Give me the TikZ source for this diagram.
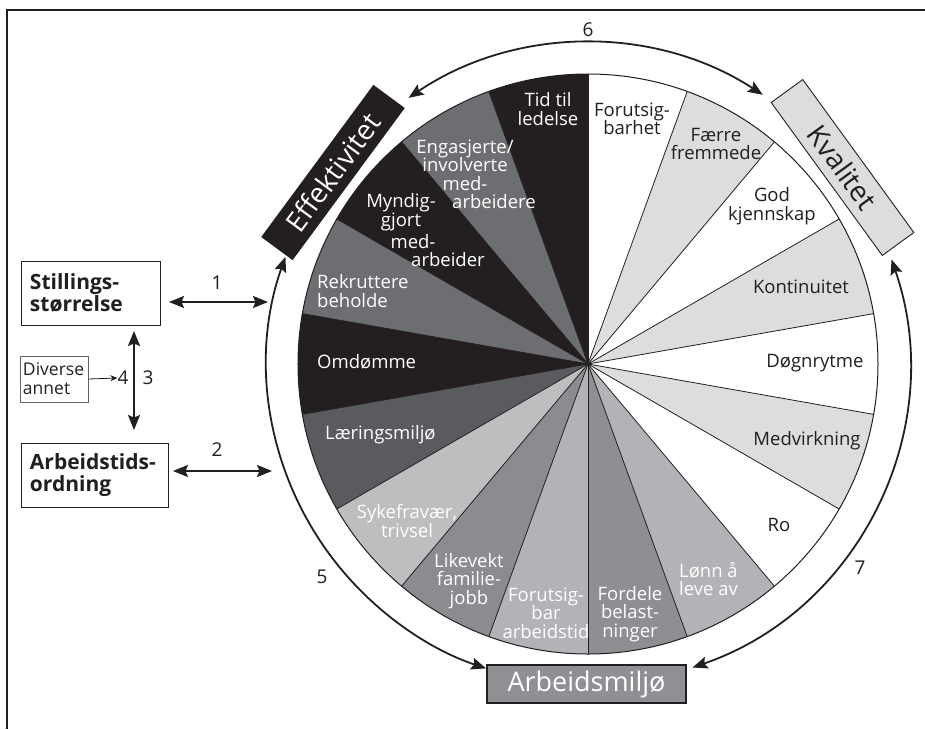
\documentclass[tikz,border=0pt]{standalone}
\usepackage{fontspec}
\setmainfont{Open Sans}
\usetikzlibrary{arrows.meta}
\definecolor{pblack}{HTML}{231F20}
\definecolor{dgray}{HTML}{6D6E71}
\definecolor{lgray}{HTML}{5A5B5E}
\definecolor{sgray}{HTML}{BCBEC0}
\definecolor{mgray}{HTML}{8A8C8F}
\definecolor{fgray}{HTML}{B1B3B6}
\definecolor{egray}{HTML}{8D8F92}
\definecolor{pale}{HTML}{DCDDDE}
\definecolor{abox}{HTML}{8E9093}
\begin{document}
\begin{tikzpicture}[x=1pt,y=1pt,
  font=\fontsize{18.5}{18.5}\selectfont,
  >={Stealth[length=15pt,width=12pt,inset=2.5pt]},
  wlab/.style={text=white,align=center,inner sep=0pt},
  dlab/.style={text=pblack,align=center,inner sep=0pt},
  arcarr/.style={line width=1.8pt,draw=pblack,<->},
  linarr/.style={line width=1.8pt,draw=pblack,<->},
  num/.style={text=pblack,font=\fontsize{19}{20}\selectfont,inner sep=0pt},
  leftbox/.style={draw=pblack,line width=1pt,align=left,minimum height=64pt,inner xsep=8pt,
     font=\fontsize{21}{22}\selectfont\bfseries,text=pblack},
  bigtext/.style={minimum width=189pt,minimum height=39pt,inner sep=0pt}
]
\useasboundingbox (-588,-365) rectangle (337,364);
\fill[white] (-588,-365) rectangle (337,364);

% frame
\draw[line width=2pt,pblack] (-581,-365) -- (-581,354) -- (337,354);

% sectors
\foreach \a/\c in {90/pblack,110/dgray,130/pblack,150/dgray,170/pblack,190/lgray,
  210/sgray,230/mgray,250/fgray,270/egray,290/fgray,310/white,330/pale,350/white,
  370/pale,390/white,410/pale,430/white}{
  \fill[\c] (0,0) -- (\a:290) arc[start angle=\a,end angle=\a+20,radius=290] -- cycle;
}
\foreach \a in {90,110,...,430}{
  \draw[line width=0.8pt,pblack] (0,0) -- (\a:290);
}
\draw[line width=1pt,pblack] (0,0) circle[radius=290];

% sector labels (left half, white text)
\node[wlab] (tid) at (-40,255) {Tid til\\ledelse};
\node[wlab] (eng) at (-123,199) {Engasjerte/\\involverte\\med-};
\node[wlab] (eng2) at (-94,162) {arbeidere};
\node[wlab] (myn1) at (-187,161) {Myndig-};
\node[wlab] (myn2) at (-187,142) {gjort};
\node[wlab] (myn3) at (-175,122) {med-};
\node[wlab] (myn4) at (-140,104) {arbeider};
\node[wlab,anchor=west,align=left] (rek) at (-271,73) {Rekruttere\\beholde};
\node[wlab,anchor=west] (omd) at (-271,2) {Omdømme};
\node[wlab,anchor=west] (lar) at (-263,-71) {Læringsmiljø};
\node[wlab] (syk) at (-181,-157) {Sykefravær,\\trivsel};
\node[wlab] (lik) at (-119,-217) {Likevekt\\familie-\\jobb};
\node[wlab] (fab) at (-42,-249) {Forutsig-\\bar\\arbeidstid};
\node[wlab] (ford) at (42,-250) {Fordele\\belast-\\ninger};
\node[wlab,anchor=west,align=left] (lonn) at (91,-215) {Lønn å\\leve av};
% right half, dark text
\node[dlab] (ro) at (191,-161) {Ro};
\node[dlab] (med) at (219,-77) {Medvirkning};
\node[dlab] (dog) at (227,1) {Døgnrytme};
\node[dlab] (kon) at (213,77) {Kontinuitet};
\node[dlab] (god) at (184,158) {God\\kjennskap};
\node[dlab] (fae) at (128,220) {Færre\\fremmede};
\node[dlab] (for) at (44,245) {Forutsig-\\barhet};

% outer boxes
\node[bigtext,fill=pblack,text=white,rotate=53.6,font=\fontsize{28}{28}\selectfont] (eff) at (-255,191.5) {Effektivitet};
\node[bigtext,fill=pale,draw=pblack,line width=0.9pt,text=pblack,rotate=-54,font=\fontsize{28}{28}\selectfont] (kva) at (254.5,196.5) {Kvalitet};
\node[fill=abox,draw=pblack,line width=1.2pt,text=white,minimum width=199pt,minimum height=38pt,inner sep=0pt,font=\fontsize{27}{28}\selectfont] (arb) at (-1.5,-320) {Arbeidsmiljø};

% arcs
\coordinate (a6s) at (124:321);
\coordinate (a5s) at (160.5:321);
\coordinate (a7s) at (19:321);
\draw[arcarr] (a6s) arc[start angle=124,end angle=57,radius=321];
\draw[arcarr] (a5s) arc[start angle=160.5,end angle=251.5,radius=321];
\draw[arcarr] (a7s) arc[start angle=19,end angle=-71,radius=321];
\node[num] (n6) at (0,334) {6};
\node[num] (n5) at (-266,-213) {5};
\node[num] (n7) at (272,-204) {7};

% left boxes
\node[leftbox,text width=123pt] (stil) at (-496.5,71) {Stillings-\\størrelse};
\node[leftbox,text width=131pt] (arbt) at (-492.5,-111) {Arbeidstids-\\ordning};
\node[draw=pblack!70,line width=0.6pt,minimum height=46pt,text width=62pt,inner xsep=3pt,inner ysep=0pt,
  align=left,text=pblack,font=\fontsize{17.5}{19}\selectfont] (div) at (-534,-15) {Diverse\\annet};

\coordinate (a1s) at (-419,62);
\coordinate (a1e) at (-320,62);
\coordinate (a2s) at (-415,-107);
\coordinate (a2e) at (-316,-107);
\coordinate (a3s) at (-454,33);
\coordinate (a3e) at (-454,-66);
\draw[linarr] (a1s) -- (a1e);
\draw[linarr] (a2s) -- (a2e);
\draw[linarr] (a3s) -- (a3e);
\node[num] (n1) at (-371,81) {1};
\node[num] (n2) at (-371,-86) {2};
\node[num] (n3) at (-440,-14) {3};
\node[num] (n4) at (-465,-14) {4};
\draw[line width=0.8pt,pblack,-{Stealth[length=7pt,width=6pt]}] (div.east) -- (n4.west);
\end{tikzpicture}
\end{document}
